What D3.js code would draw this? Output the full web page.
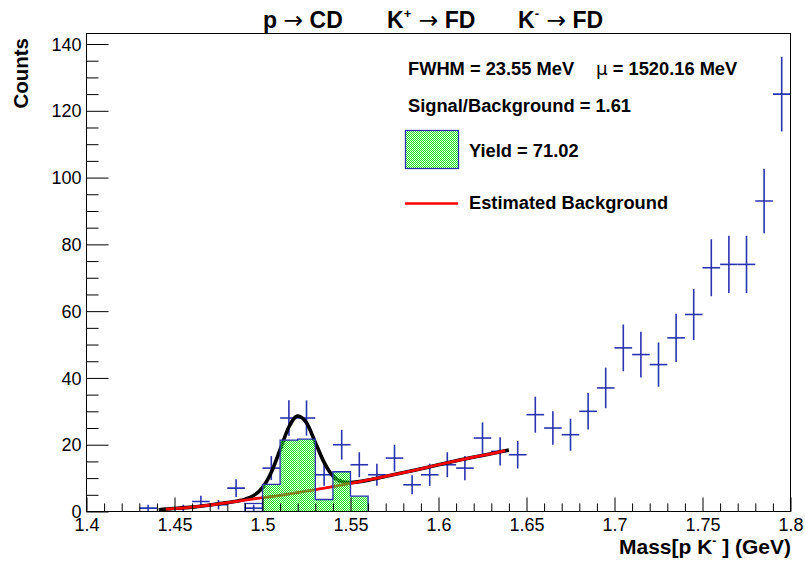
<!DOCTYPE html>
<html><head><meta charset="utf-8">
<script src="https://cdn.jsdelivr.net/npm/d3@7"></script>
<style>
body{margin:0;background:#fff}
svg{display:block}
text{font-family:"Liberation Sans",Arial,Helvetica,sans-serif;fill:#000}
</style>
</head><body>
<svg id="c" width="805" height="564"></svg>
<script>
// ---------- data ----------
const binCenters = [1.435,1.445,1.455,1.465,1.475,1.485,1.495,1.505,1.515,1.525,1.535,1.545,1.555,1.565,1.575,1.585,1.595,1.605,1.615,1.625,1.635,1.645,1.655,1.665,1.675,1.685,1.695,1.705,1.715,1.725,1.735,1.745,1.755,1.765,1.775,1.785,1.795];
const counts     = [1,0,1,3,2,7,1,13,28,28,11,20,14,11,16,8,11,14,13,22,18,17,29,25,23,30,37,49,47,44,52,59,73,74,74,93,125];
const countErrs  = [1,0,1,1.73,1.41,2.65,1,3.61,5.29,5.29,3.32,4.47,3.74,3.32,4,2.83,3.32,3.74,3.61,4.69,4.24,4.12,5.39,5,4.8,5.48,6.08,7,6.86,6.63,7.21,7.68,8.54,8.6,8.6,9.64,11.18];
const binWidth = 0.01;

const sigBins   = [1.495,1.505,1.515,1.525,1.535,1.545,1.555];
const sigCounts = [2.4,8.1,21.4,21.7,3.6,11.9,4.6];
const sigUnfilled = [1.495];

const bgX = [1.445,1.46,1.478,1.495,1.512,1.531,1.55,1.567,1.585,1.6,1.612,1.625,1.638];
const bgY = [0.7,1.3,2.5,3.8,5.0,6.6,8.4,10.2,12.2,14.0,15.4,16.8,18.2];

const fitX = [1.441,1.445,1.46,1.47,1.48,1.485,1.49,1.495,1.50,1.505,1.51,1.515,1.52,1.525,1.53,1.535,1.54,1.545,1.55,1.555,1.56,1.567,1.585,1.6,1.612,1.625,1.64];
const fitY = [0.5,0.7,1.3,1.95,2.66,3.05,3.64,4.76,7.14,11.75,18.5,25.3,28.6,26.55,20.7,14.7,10.64,8.96,8.67,8.95,9.4,10.2,12.2,14.0,15.4,16.8,18.4];

const xMajorTicks = [1.4,1.45,1.5,1.55,1.6,1.65,1.7,1.75,1.8];
const xTickLabels = ["1.4","1.45","1.5","1.55","1.6","1.65","1.7","1.75","1.8"];
const yMajorTicks = [0,20,40,60,80,100,120,140];

const xTitle = "Mass[p K";
const yTitle = "Counts";
const legendLine1a = "FWHM = 23.55 MeV";
const legendLine1b = " = 1520.16 MeV";
const legendLine2 = "Signal/Background = 1.61";
const legendYield = "Yield = 71.02";
const legendBg = "Estimated Background";

// ---------- layout ----------
const L = 86.5, R = 790.5, T = 33.5, B = 511.5;
const x = d3.scaleLinear().domain([1.4, 1.8]).range([L, R]);
const y = d3.scaleLinear().domain([0, 143.15]).range([B, T]);
const blue = "#2a32ad";

const svg = d3.select("#c");
const defs = svg.append("defs");
const pat = defs.append("pattern").attr("id","hatch").attr("patternUnits","userSpaceOnUse")
  .attr("width",2).attr("height",2);
pat.append("rect").attr("x",0).attr("y",0).attr("width",1).attr("height",1).attr("fill","#1fe01f");
pat.append("rect").attr("x",1).attr("y",1).attr("width",1).attr("height",1).attr("fill","#1fe01f");
pat.append("rect").attr("x",1).attr("y",0).attr("width",1).attr("height",1).attr("fill","#7af57a").attr("opacity",0.3);

svg.append("rect").attr("x",0).attr("y",0).attr("width",805).attr("height",564).attr("fill","#fff");

const plot = svg.append("g");
plot.append("clipPath").attr("id","clip").append("rect").attr("x",L).attr("y",T).attr("width",R-L).attr("height",B-T);

// data points with error bars
const pts = plot.append("g").attr("clip-path","url(#clip)").attr("stroke",blue).attr("stroke-width",1.6);
binCenters.forEach((c,i) => {
  if (counts[i] <= 0) return;
  pts.append("line").attr("x1",x(c-binWidth/2)).attr("x2",x(c+binWidth/2))
     .attr("y1",y(counts[i])).attr("y2",y(counts[i]));
  pts.append("line").attr("x1",x(c)).attr("x2",x(c))
     .attr("y1",y(counts[i]-countErrs[i])).attr("y2",y(counts[i]+countErrs[i]));
});

// fit (black) and background (red)
const lineGen = d3.line().x(d=>x(d[0])).y(d=>y(d[1])).curve(d3.curveMonotoneX);
plot.append("path").attr("d", lineGen(fitX.map((v,i)=>[v,fitY[i]])))
  .attr("fill","none").attr("stroke","#000").attr("stroke-width",3.6).attr("stroke-linecap","butt");
plot.append("path").attr("d", lineGen(bgX.map((v,i)=>[v,bgY[i]])))
  .attr("fill","none").attr("stroke","#ff0000").attr("stroke-width",2.8);

// signal histogram
const hist = plot.append("g");
sigBins.forEach((c,i) => {
  if (sigUnfilled.includes(c)) {
    hist.append("rect").attr("x",x(c-binWidth/2)).attr("y",y(sigCounts[i]))
      .attr("width",x(c+binWidth/2)-x(c-binWidth/2)).attr("height",y(0)-y(sigCounts[i]))
      .attr("fill","none").attr("stroke",blue).attr("stroke-width",1.3);
    return;
  }
  hist.append("rect").attr("x",x(c-binWidth/2)).attr("y",y(sigCounts[i]))
    .attr("width",x(c+binWidth/2)-x(c-binWidth/2)).attr("height",y(0)-y(sigCounts[i]))
    .attr("fill","url(#hatch)");
});
const stepPts = [];
sigBins.forEach((c,i) => {
  if (sigUnfilled.includes(c)) return;
  if (stepPts.length === 0) stepPts.push([c-binWidth/2, 0]);
  stepPts.push([c-binWidth/2, sigCounts[i]]);
  stepPts.push([c+binWidth/2, sigCounts[i]]);
});
stepPts.push([stepPts[stepPts.length-1][0], 0]);
hist.append("path").attr("d", d3.line().x(d=>x(d[0])).y(d=>y(d[1]))(stepPts))
  .attr("fill","none").attr("stroke",blue).attr("stroke-width",1.3);

// axes
const xMinor = d3.range(0,41).map(i => 1.4 + i*0.01).filter(v => !xMajorTicks.some(m => Math.abs(m-v)<1e-6));
const yMinor = d3.range(0,29).map(i => i*5).filter(v => v % 20 !== 0);

svg.append("g").attr("transform",`translate(0,${B})`)
  .call(d3.axisBottom(x).tickValues(xMinor).tickSize(-8).tickFormat(""))
  .call(g=>g.select(".domain").remove())
  .call(g=>g.selectAll("line").attr("stroke","#000"));
svg.append("g").attr("transform",`translate(0,${B})`)
  .call(d3.axisBottom(x).tickValues(xMajorTicks).tickSize(-14).tickPadding(7)
        .tickFormat((d,i)=>xTickLabels[i]))
  .call(g=>g.select(".domain").remove())
  .call(g=>g.selectAll("line").attr("stroke","#000"))
  .call(g=>g.selectAll("text").attr("font-size",18).attr("font-family","Liberation Sans, Arial, sans-serif").attr("fill","#000"));

svg.append("g").attr("transform",`translate(${L},0)`)
  .call(d3.axisLeft(y).tickValues(yMinor).tickSize(-12).tickFormat(""))
  .call(g=>g.select(".domain").remove())
  .call(g=>g.selectAll("line").attr("stroke","#000"));
svg.append("g").attr("transform",`translate(${L},0)`)
  .call(d3.axisLeft(y).tickValues(yMajorTicks).tickSize(-22).tickPadding(5))
  .call(g=>g.select(".domain").remove())
  .call(g=>g.selectAll("line").attr("stroke","#000"))
  .call(g=>g.selectAll("text").attr("font-size",18).attr("dy","0.34em").attr("font-family","Liberation Sans, Arial, sans-serif").attr("fill","#000"));

// frame
svg.append("rect").attr("x",L).attr("y",T).attr("width",R-L).attr("height",B-T)
  .attr("fill","none").attr("stroke","#000").attr("stroke-width",1);

// axis titles
const xt = svg.append("text").attr("x",791).attr("y",554).attr("text-anchor","end")
  .attr("font-size",21).attr("font-weight","bold").style("white-space","pre");
xt.append("tspan").text(xTitle);
xt.append("tspan").attr("font-size",12).attr("dy",-9).text("-");
xt.append("tspan").attr("dy",9).text(" ] (GeV)");

svg.append("text").attr("transform","translate(28,38) rotate(-90)").attr("text-anchor","end")
  .attr("font-size",20.5).attr("font-weight","bold").text(yTitle);

// title
function titleGroup(x0, parts){
  const t = svg.append("text").attr("x",x0).attr("y",28).attr("font-size",23).attr("font-weight","bold")
    .style("white-space","pre");
  parts.forEach(p => {
    const s = t.append("tspan").text(p.t);
    if (p.sup) s.attr("font-size",13).attr("dy",-10);
    if (p.down) s.attr("dy",10);
    if (p.thin) s.attr("font-weight","normal").attr("font-family","DejaVu Sans, sans-serif").attr("font-size",23.5);
  });
}
titleGroup(263, [{t:"p "},{t:"\u2192",thin:true},{t:" CD"}]);
titleGroup(387, [{t:"K"},{t:"+",sup:true},{t:" \u2192",thin:true,down:true},{t:" FD"}]);
titleGroup(518, [{t:"K"},{t:"-",sup:true},{t:" \u2192",thin:true,down:true},{t:" FD"}]);

// legend
const lg = svg.append("g");
lg.append("text").attr("x",408).attr("y",75).attr("font-size",18.3).attr("font-weight","bold").text(legendLine1a);
const mu = lg.append("text").attr("x",596).attr("y",75).attr("font-size",18.3).attr("font-weight","bold").style("white-space","pre");
mu.append("tspan").attr("font-weight","normal").attr("font-family","DejaVu Sans, sans-serif").text("\u03bc");
mu.append("tspan").text(legendLine1b);
lg.append("text").attr("x",408).attr("y",111.5).attr("font-size",18.3).attr("font-weight","bold").text(legendLine2);
lg.append("rect").attr("x",405.5).attr("y",130.5).attr("width",53).attr("height",38)
  .attr("fill","url(#hatch)").attr("stroke",blue).attr("stroke-width",1.3);
lg.append("text").attr("x",469).attr("y",157).attr("font-size",18.3).attr("font-weight","bold").text(legendYield);
lg.append("line").attr("x1",405).attr("x2",458).attr("y1",203.5).attr("y2",203.5).attr("stroke","#ff0000").attr("stroke-width",2.5);
lg.append("text").attr("x",469).attr("y",209).attr("font-size",18.3).attr("font-weight","bold").text(legendBg);
</script>
</body></html>
